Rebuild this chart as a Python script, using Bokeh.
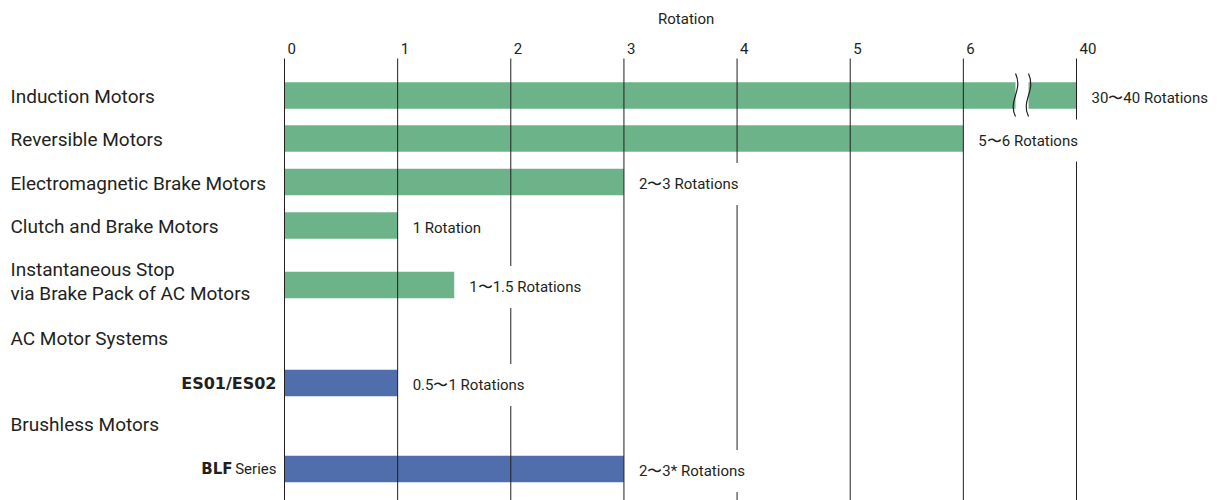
from bokeh.plotting import figure
from bokeh.models import Range1d, ColumnDataSource
from bokeh.core.properties import value
from bokeh.embed import file_html
from bokeh.resources import INLINE

# ---------------- data ----------------
axis_title = "Rotation"
tick_values = [0, 1, 2, 3, 4, 5, 6, 40]
tick_labels = ["0", "1", "2", "3", "4", "5", "6", "40"]

ac_motors = ["Induction Motors", "Reversible Motors", "Electromagnetic Brake Motors",
             "Clutch and Brake Motors", "Instantaneous Stop\nvia Brake Pack of AC Motors"]
ac_rotations = [40, 6, 3, 1, 1.5]
ac_labels = ["30〜40 Rotations", "5〜6 Rotations", "2〜3 Rotations", "1 Rotation", "1〜1.5 Rotations"]

group_headers = ["AC Motor Systems", "Brushless Motors"]
system_bold = ["ES01/ES02", "BLF"]
system_rest = ["", "Series"]
system_rotations = [1, 3]
system_labels = ["0.5〜1 Rotations", "2〜3* Rotations"]

# ---------------- layout / style ----------------
W, H = 1218, 500
PX0 = 284.0                 # frame pixel of value 0
UNIT = 792.0 / 7.0          # pixels per tick step
ROW_Y = [95, 138, 181.5, 225, 284.5]
NAME_DY = [1, 1, 1, 1, -3.5]
HEADER_Y = [337.5, 424]
SYS_Y = [382.5, 468.5]
BAR_H = 26.5
GRID_TOP = 58
GREEN = "#6cb389"
BLUE = "#4f6eab"
TXT = "#231f20"
FONT = value("Roboto")
BOLD_FONT = value("DejaVu Sans")


def to_axis(v):
    """broken axis: ticks evenly spaced, last tick (40) one step after 6"""
    for i in range(len(tick_values) - 1):
        a, b = tick_values[i], tick_values[i + 1]
        if a <= v <= b:
            return i + (v - a) / (b - a)
    return len(tick_values) - 1


tick_pos = list(range(len(tick_values)))

p = figure(width=W, height=H, output_backend="svg", toolbar_location=None,
           x_range=Range1d(-PX0 / UNIT, (W - PX0) / UNIT),
           y_range=Range1d(H, 0),
           x_axis_location=None, y_axis_location=None, min_border=0)
p.grid.visible = False
p.outline_line_color = None
p.background_fill_color = "white"
p.border_fill_color = "white"

# bars
ac_src = ColumnDataSource(dict(y=ROW_Y, right=[to_axis(v) for v in ac_rotations],
                               name=ac_motors, label=ac_labels, dy=NAME_DY))
sys_src = ColumnDataSource(dict(y=SYS_Y, right=[to_axis(v) for v in system_rotations],
                                bold=system_bold, rest=system_rest, label=system_labels))
p.hbar(y="y", left=0, right="right", height=BAR_H, fill_color=GREEN, line_color=None, source=ac_src)
p.hbar(y="y", left=0, right="right", height=BAR_H, fill_color=BLUE, line_color=None, source=sys_src)

# break in the induction bar (between 6 and 40)
bx0 = 6 + (1015 - PX0 - 6 * UNIT) / UNIT
bx1 = 6 + (1028 - PX0 - 6 * UNIT) / UNIT
yb = ROW_Y[0]
p.quad(left=bx0, right=bx1, top=yb - BAR_H / 2 - 1, bottom=yb + BAR_H / 2 + 1,
       fill_color="white", line_color=None)
d = 4.0 / UNIT
p.bezier(x0=[bx0, bx1], y0=[yb - 22, yb - 22], x1=[bx0, bx1], y1=[yb + 21, yb + 21],
         cx0=[bx0 + 2 * d, bx1 + 2 * d], cy0=[yb - 5, yb - 5],
         cx1=[bx0 - 2 * d, bx1 - 2 * d], cy1=[yb + 5, yb + 5],
         line_color=TXT, line_width=1.2)

# vertical grid lines
p.segment(x0=tick_pos, y0=GRID_TOP, x1=tick_pos, y1=H, line_color=TXT, line_width=1)

# tick labels + title
p.text(x=tick_pos, y=48, text=tick_labels, x_offset=3, text_align="left", text_baseline="middle",
       text_font=FONT, text_font_size="15px", text_color=TXT)
p.text(x=[(to_axis(tick_values[3]) + to_axis(tick_values[4])) / 2 + 0.05], y=[18], text=[axis_title],
       text_align="center", text_baseline="middle", text_font=FONT, text_font_size="15px",
       text_color=TXT)

# value labels with white boxes that interrupt the grid
pad = dict(left=3, right=4, top=12, bottom=12)
for src in (ac_src, sys_src):
    p.text(x="right", y="y", text="label", x_offset=12, y_offset=2, text_align="left",
           text_baseline="middle", text_font=FONT, text_font_size="15px", text_color=TXT,
           background_fill_color="white", padding=pad, source=src)

# category labels
xl = -PX0 / UNIT
p.text(x=xl, y="y", text="name", x_offset=10, y_offset="dy", text_align="left", text_baseline="middle",
       text_font=FONT, text_font_size="19px", text_color=TXT, text_line_height=1.03, source=ac_src)
p.text(x=[xl, xl], y=HEADER_Y, text=group_headers, x_offset=10, text_align="left",
       text_baseline="middle", text_font=FONT, text_font_size="19px", text_color=TXT)
p.text(x=0, y="y", text="rest", x_offset=-8, text_align="right", text_baseline="middle",
       text_font=FONT, text_font_size="15px", text_color=TXT, source=sys_src)
p.text(x=[0, 0], y=SYS_Y, text=system_bold, x_offset=[-8, -52], text_align="right",
       text_baseline="middle", text_font=BOLD_FONT, text_font_size=["16px", "15px"],
       text_font_style="bold", text_color=TXT)

open("out.html", "w").write(file_html(p, INLINE))
